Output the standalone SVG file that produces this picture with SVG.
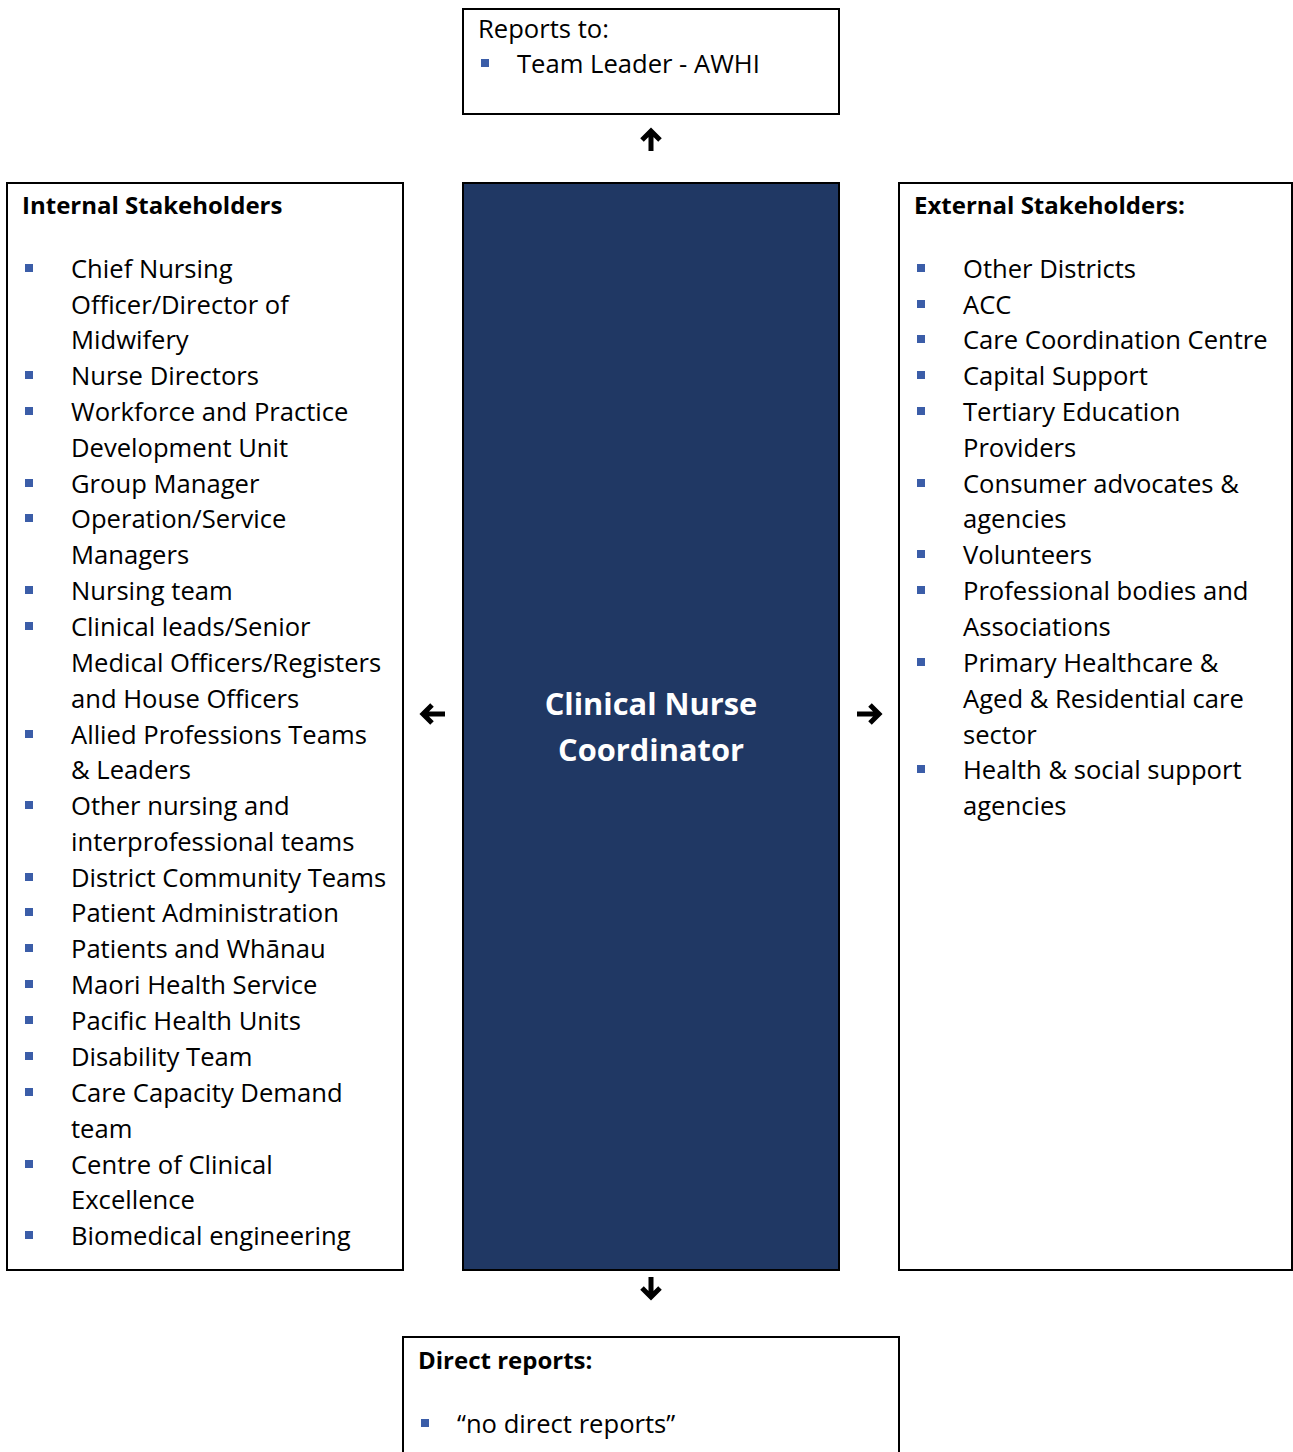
<svg xmlns="http://www.w3.org/2000/svg" width="1293" height="1452" viewBox="0 0 1293 1452">
<style>
.box{fill:#fff;stroke:#000;stroke-width:2}
.core{fill:#203864;stroke:#000;stroke-width:2}
.t{font-family:"Open Sans","Noto Sans",sans-serif;font-size:25.6px;fill:#000}
.h{font-family:"Open Sans","Noto Sans",sans-serif;font-size:24px;font-weight:bold;fill:#000}
.c{font-family:"Open Sans","Noto Sans",sans-serif;font-size:30.8px;font-weight:bold;fill:#fff;text-anchor:middle}
.b{fill:#3b5da8}
.arr{fill:none;stroke:#000;stroke-width:5;stroke-linecap:butt;stroke-linejoin:miter}
</style>
<defs>
<rect id="bul" class="b" width="8" height="8"/>
</defs>
<g id="reports-to">
<rect class="box" x="463" y="9" width="376" height="105"/>
<text class="t" x="478" y="38">Reports to:</text>
<use href="#bul" x="481" y="59"/>
<text class="t" x="517" y="73">Team Leader - AWHI</text>
</g>
<g id="internal">
<rect class="box" x="7" y="183" width="396" height="1087"/>
<text class="h" x="22" y="214">Internal Stakeholders</text>
<g class="t">
<text x="71" y="278">Chief Nursing</text>
<text x="71" y="314">Officer/Director of</text>
<text x="71" y="349">Midwifery</text>
<text x="71" y="385">Nurse Directors</text>
<text x="71" y="421">Workforce and Practice</text>
<text x="71" y="457">Development Unit</text>
<text x="71" y="493">Group Manager</text>
<text x="71" y="528">Operation/Service</text>
<text x="71" y="564">Managers</text>
<text x="71" y="600">Nursing team</text>
<text x="71" y="636">Clinical leads/Senior</text>
<text x="71" y="672">Medical Officers/Registers</text>
<text x="71" y="708">and House Officers</text>
<text x="71" y="744">Allied Professions Teams</text>
<text x="71" y="779">&amp; Leaders</text>
<text x="71" y="815">Other nursing and</text>
<text x="71" y="851">interprofessional teams</text>
<text x="71" y="887">District Community Teams</text>
<text x="71" y="922">Patient Administration</text>
<text x="71" y="958">Patients and Whānau</text>
<text x="71" y="994">Maori Health Service</text>
<text x="71" y="1030">Pacific Health Units</text>
<text x="71" y="1066">Disability Team</text>
<text x="71" y="1102">Care Capacity Demand</text>
<text x="71" y="1138">team</text>
<text x="71" y="1174">Centre of Clinical</text>
<text x="71" y="1209">Excellence</text>
<text x="71" y="1245">Biomedical engineering</text>
</g>
<use href="#bul" x="25" y="264"/>
<use href="#bul" x="25" y="371"/>
<use href="#bul" x="25" y="407"/>
<use href="#bul" x="25" y="479"/>
<use href="#bul" x="25" y="514"/>
<use href="#bul" x="25" y="586"/>
<use href="#bul" x="25" y="622"/>
<use href="#bul" x="25" y="730"/>
<use href="#bul" x="25" y="801"/>
<use href="#bul" x="25" y="873"/>
<use href="#bul" x="25" y="908"/>
<use href="#bul" x="25" y="944"/>
<use href="#bul" x="25" y="980"/>
<use href="#bul" x="25" y="1016"/>
<use href="#bul" x="25" y="1052"/>
<use href="#bul" x="25" y="1088"/>
<use href="#bul" x="25" y="1160"/>
<use href="#bul" x="25" y="1231"/>
</g>
<g id="role">
<rect class="core" x="463" y="183" width="376" height="1087"/>
<text class="c" x="651" y="715">Clinical Nurse</text>
<text class="c" x="651" y="761">Coordinator</text>
</g>
<g id="external">
<rect class="box" x="899" y="183" width="393" height="1087"/>
<text class="h" x="914" y="214">External Stakeholders:</text>
<g class="t">
<text x="963" y="278">Other Districts</text>
<text x="963" y="314">ACC</text>
<text x="963" y="349">Care Coordination Centre</text>
<text x="963" y="385">Capital Support</text>
<text x="963" y="421">Tertiary Education</text>
<text x="963" y="457">Providers</text>
<text x="963" y="493">Consumer advocates &amp;</text>
<text x="963" y="528">agencies</text>
<text x="963" y="564">Volunteers</text>
<text x="963" y="600">Professional bodies and</text>
<text x="963" y="636">Associations</text>
<text x="963" y="672">Primary Healthcare &amp;</text>
<text x="963" y="708">Aged &amp; Residential care</text>
<text x="963" y="744">sector</text>
<text x="963" y="779">Health &amp; social support</text>
<text x="963" y="815">agencies</text>
</g>
<use href="#bul" x="917" y="264"/>
<use href="#bul" x="917" y="300"/>
<use href="#bul" x="917" y="335"/>
<use href="#bul" x="917" y="371"/>
<use href="#bul" x="917" y="407"/>
<use href="#bul" x="917" y="479"/>
<use href="#bul" x="917" y="550"/>
<use href="#bul" x="917" y="586"/>
<use href="#bul" x="917" y="658"/>
<use href="#bul" x="917" y="765"/>
</g>
<g id="direct-reports">
<rect class="box" x="403" y="1337" width="496" height="130"/>
<text class="h" x="418" y="1369">Direct reports:</text>
<use href="#bul" x="421" y="1419"/>
<text class="t" x="457" y="1433">“no direct reports”</text>
</g>
<g id="connectors">
<path class="arr" d="M651 151V131M642 140L651 131L660 140"/>
<path class="arr" d="M651 1277V1297M642 1288L651 1297L660 1288"/>
<path class="arr" d="M445 714H423M432 705L423 714L432 723"/>
<path class="arr" d="M857 714H879M870 705L879 714L870 723"/>
</g>
</svg>
